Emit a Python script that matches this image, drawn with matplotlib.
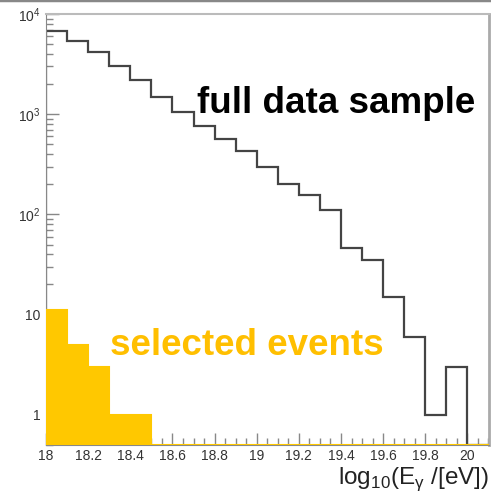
import matplotlib
matplotlib.use('Agg')
import matplotlib.pyplot as plt
from matplotlib.lines import Line2D
from matplotlib.ticker import MultipleLocator, LogLocator, FuncFormatter, NullFormatter
import numpy as np

plt.rcParams['font.family'] = ['Liberation Sans', 'DejaVu Sans']

### Data

# bin edges in log10(E/eV), 0.1 wide
bin_edges = np.round(np.arange(18.0, 20.101, 0.1), 1)

# full data sample (counts per bin)
full_counts = [6800, 5410, 4140, 3020, 2190, 1470, 1047, 771, 566, 430,
               297, 203, 157, 110, 46, 35, 15, 6, 1, 3, 0]

# selected events (counts per bin)
selected_counts = [11, 5, 3, 1, 1, 0, 0, 0, 0, 0,
                   0, 0, 0, 0, 0, 0, 0, 0, 0, 0, 0]

### Figure

fig = plt.figure(figsize=(4.91, 4.98), dpi=100)
ax = fig.add_axes([46 / 491, 1 - 445 / 498, (488.5 - 46) / 491, (445 - 14) / 498])

ymin, ymax = 0.5, 1e4
ax.set_yscale('log')
ax.set_xlim(18.0, 20.1)
ax.set_ylim(ymin, ymax)

# empty bins sit on the bottom of the frame, as ROOT draws them
full_plot = np.maximum(np.array(full_counts, dtype=float), ymin)
sel_plot = np.maximum(np.array(selected_counts, dtype=float), ymin)

ax.stairs(full_plot, bin_edges, baseline=ymin, fill=False,
          color='#444444', linewidth=1.6, zorder=2)
ax.stairs(sel_plot, bin_edges, baseline=ymin, fill=True,
          facecolor='#FFC800', edgecolor='#FFC800', linewidth=1.5, zorder=3)

### Labels

ax.text(197 / 491, 1 - 113 / 498, 'full data sample', transform=fig.transFigure,
        fontsize=26.5, fontweight='bold', color='black', va='baseline', ha='left')
ax.text(110 / 491, 1 - 355 / 498, 'selected events', transform=fig.transFigure,
        fontsize=26.5, fontweight='bold', color='#FFBF00', va='baseline', ha='left')

fig.text(489 / 491, 1 - 484 / 498,
         r'log$_{\mathregular{10}}$(E$_{\mathregular{\gamma}}$ /[eV])',
         fontsize=17.5, color='#222222', ha='right', va='baseline')

### Ticks

ax.xaxis.set_major_locator(MultipleLocator(0.2))
ax.xaxis.set_minor_locator(MultipleLocator(0.05))
ax.xaxis.set_major_formatter(FuncFormatter(lambda v, p: '%g' % round(v, 1)))


def ylab(v, p):
    e = int(round(np.log10(v)))
    if e == 0:
        return '1'
    if e == 1:
        return '10'
    return r'10$^{\mathregular{%d}}$' % e


ax.yaxis.set_major_locator(LogLocator(base=10, numticks=10))
ax.yaxis.set_major_formatter(FuncFormatter(ylab))
ax.yaxis.set_minor_locator(LogLocator(base=10, subs=np.arange(2, 10), numticks=20))
ax.yaxis.set_minor_formatter(NullFormatter())

ax.tick_params(which='both', direction='in', color='#888888', width=1,
               labelsize=10, labelcolor='#333333')
ax.tick_params(which='major', length=9)
ax.tick_params(which='minor', length=5)
ax.tick_params(axis='x', pad=3)
ax.tick_params(axis='y', pad=4)

### Frame

ax.spines['left'].set_color('#888888')
ax.spines['bottom'].set_color('#888888')
ax.spines['top'].set_color('#bbbbbb')
ax.spines['top'].set_linewidth(1.5)
ax.spines['right'].set_color('#aaaaaa')
ax.spines['right'].set_linewidth(2)

# canvas border at the top
fig.add_artist(Line2D([0, 1], [1, 1], transform=fig.transFigure,
                      color='#888888', linewidth=2.5))

fig.savefig('out.png', dpi=100)
plt.close(fig)
